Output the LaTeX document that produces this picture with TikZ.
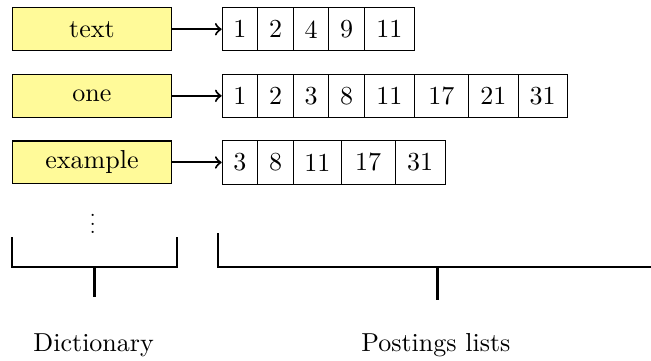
\documentclass[tikz,border=0pt]{standalone}
\usepackage{tikz}
\tikzset{
	dictbox/.style={draw, fill=yellow!40, minimum width=2.16cm, minimum height=0.58cm, inner sep=0pt},
	cell/.style={draw, anchor=west, minimum width=0.48cm, minimum height=0.585cm, inner sep=0pt},
	widecell/.style={cell, minimum width=0.675cm},
}

\begin{document}
\begin{tikzpicture}
		%%%%% START %%%%%
		\useasboundingbox (0, 0) rectangle (8.797, 4.865);
		
		% dictionary terms
		\node[dictbox] (w1) at (1.243, 4.47) {text};
		\node[dictbox] (w2) at (1.243, 3.57) {one};
		\node[dictbox] (w3) at (1.243, 2.67) {example};
		\node (dots) at (1.253, 1.92) {\scalebox{0.8}{$\vdots$}};
		
		% postings for "text"
		\node[cell] (t1) at (2.996, 4.47) {1};
		\node[cell] (t2) at (3.476, 4.47) {2};
		\node[cell] (t3) at (3.956, 4.47) {4};
		\node[cell] (t4) at (4.436, 4.47) {9};
		\node[widecell] (t5) at (4.916, 4.47) {11};
		
		% postings for "one"
		\node[cell] (o1) at (2.996, 3.57) {1};
		\node[cell] (o2) at (3.476, 3.57) {2};
		\node[cell] (o3) at (3.956, 3.57) {3};
		\node[cell] (o4) at (4.436, 3.57) {8};
		\node[widecell] (o5) at (4.916, 3.57) {11};
		\node[widecell, minimum width=0.73cm] (o6) at (5.591, 3.57) {17};
		\node[widecell] (o7) at (6.321, 3.57) {21};
		\node[widecell, minimum width=0.66cm] (o8) at (6.996, 3.57) {31};
		
		% postings for "example"
		\node[cell] (e1) at (2.996, 2.67) {3};
		\node[cell] (e2) at (3.476, 2.67) {8};
		\node[widecell, minimum width=0.65cm] (e3) at (3.956, 2.67) {11};
		\node[widecell, minimum width=0.725cm] (e4) at (4.606, 2.67) {17};
		\node[widecell, minimum width=0.68cm] (e5) at (5.331, 2.67) {31};
		
		\draw[->, thick] (w1) -- (t1);
		\draw[->, thick] (w2) -- (o1);
		\draw[->, thick] (w3) -- (e1);
		
		% brackets underneath
		\draw[thick] (0.166, 1.658) -- (0.166, 1.261) -- (2.388, 1.261) -- (2.388, 1.658);
		\draw[very thick] (1.274, 1.261) -- (1.274, 0.855);
		\draw[thick] (2.95, 1.712) -- (2.95, 1.261) -- (8.8, 1.261);
		\draw[very thick] (5.915, 1.261) -- (5.915, 0.811);
		
		\node[anchor=base] (dictlabel) at (1.266, 0.112) {Dictionary};
		\node[anchor=base] (postlabel) at (5.89, 0.112) {Postings lists};
		
		%%%%% END %%%%%
	\end{tikzpicture}
\end{document}
